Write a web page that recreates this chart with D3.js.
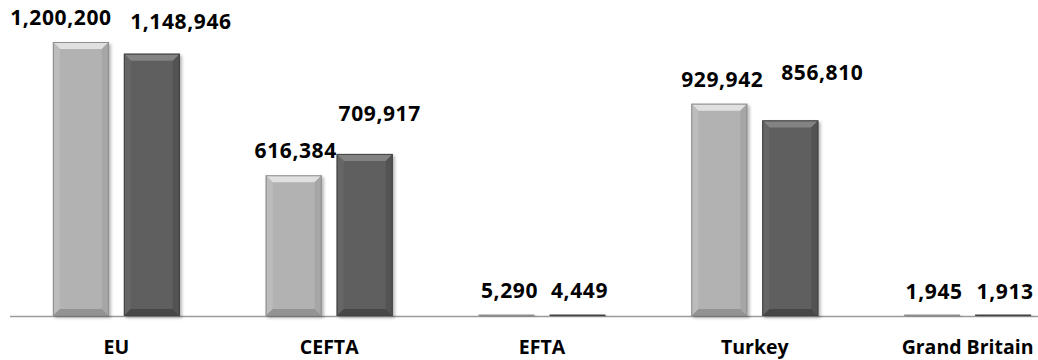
<!DOCTYPE html>
<html>
<head>
<meta charset="utf-8">
<script src="https://cdnjs.cloudflare.com/ajax/libs/d3/7.8.5/d3.min.js"></script>
<style>
  body { margin: 0; background: #fff; }
  text { font-family: "Open Sans", "DejaVu Sans", sans-serif; font-weight: bold; fill: #000; }
</style>
</head>
<body>
<div id="chart"></div>
<script>
// data
var categories = ["EU", "CEFTA", "EFTA", "Turkey", "Grand Britain"];
var seriesNames = ["s1", "s2"];
var series1 = [1200200, 616384, 5290, 929942, 1945];
var series2 = [1148946, 709917, 4449, 856810, 1913];

// label nudges (Excel moved a few labels to avoid overlap)
var labelShift = {
  s1: [[-20, 0], [2, 0], [3, 0], [3, 0], [2, 0]],
  s2: [[29, -8], [15, -16], [2, 0], [32, -23], [2, 0]]
};

var width = 1038, height = 360;
var baseY = 316;

var svg = d3.select("#chart").append("svg")
    .attr("width", width)
    .attr("height", height);

var defs = svg.append("defs");
var f = defs.append("filter").attr("id", "shadow")
    .attr("x", "-20%").attr("y", "-20%").attr("width", "140%").attr("height", "140%");
f.append("feDropShadow")
    .attr("dx", 2).attr("dy", 2).attr("stdDeviation", 1.6)
    .attr("flood-color", "#000").attr("flood-opacity", 0.28);

// scales: the right end of the axis is cut off by the picture edge
var x0 = d3.scaleBand().domain(categories).range([10, 1074]).padding(0);
var x1 = d3.scaleBand().domain(seriesNames)
    .range([(x0.bandwidth() - 127) / 2, (x0.bandwidth() + 127) / 2])
    .paddingInner(15 / 71);
var y = d3.scaleLinear().domain([0, 1200200]).range([baseY, 42]);

var styles = {
  s1: { body: "#b2b2b2", top: "#e0e0e0", left: "#bcbcbc", right: "#a6a6a6", bottom: "#939393", edge: "#8e8e8e" },
  s2: { body: "#5e5e5e", top: "#838383", left: "#666666", right: "#535353", bottom: "#474747", edge: "#424242" }
};

var data = [];
categories.forEach(function(c, i) {
  data.push({ cat: c, key: "s1", value: series1[i], i: i });
  data.push({ cat: c, key: "s2", value: series2[i], i: i });
});

// axis line
svg.append("line")
    .attr("x1", x0.range()[0]).attr("x2", width)
    .attr("y1", baseY + 0.5).attr("y2", baseY + 0.5)
    .style("stroke", "#9a9a9a")
    .style("stroke-width", 1.5);

var bars = svg.selectAll(".bar")
    .data(data)
    .enter()
    .append("g")
    .attr("class", "bar")
    .attr("filter", "url(#shadow)");

bars.each(function(d) {
  var g = d3.select(this);
  var st = styles[d.key];
  var xa = x0(d.cat) + x1(d.key), xb = xa + x1.bandwidth();
  var ya = y(d.value), yb = baseY;
  var h = yb - ya;
  if (h < 2) {
    g.append("rect").attr("x", xa).attr("y", yb - 1.5)
      .attr("width", xb - xa).attr("height", 1.5)
      .style("fill", st.edge);
    return;
  }
  var b = Math.min(7, h / 2, x1.bandwidth() / 2);
  function poly(pts, fill) {
    g.append("polygon")
      .attr("points", pts.map(function(p) { return p.join(","); }).join(" "))
      .style("fill", fill);
  }
  g.append("rect").attr("x", xa).attr("y", ya)
    .attr("width", xb - xa).attr("height", h)
    .style("fill", st.body);
  poly([[xa, ya], [xb, ya], [xb - b, ya + b], [xa + b, ya + b]], st.top);
  poly([[xa, ya], [xa + b, ya + b], [xa + b, yb - b], [xa, yb]], st.left);
  poly([[xb, ya], [xb - b, ya + b], [xb - b, yb - b], [xb, yb]], st.right);
  poly([[xa, yb], [xa + b, yb - b], [xb - b, yb - b], [xb, yb]], st.bottom);
  g.append("rect").attr("x", xa + 0.5).attr("y", ya + 0.5)
    .attr("width", xb - xa - 1).attr("height", h - 1)
    .style("fill", "none").style("stroke", st.edge).style("stroke-width", 1);
});

// value labels
var fmt = d3.format(",");
svg.selectAll(".val")
    .data(data)
    .enter()
    .append("text")
    .attr("class", "val")
    .attr("text-anchor", "middle")
    .style("font-size", "21px")
    .style("letter-spacing", "0.6px")
    .attr("x", function(d) {
      return x0(d.cat) + x1(d.key) + x1.bandwidth() / 2 + labelShift[d.key][d.i][0];
    })
    .attr("y", function(d) { return y(d.value) - 17 + labelShift[d.key][d.i][1]; })
    .text(function(d) { return fmt(d.value); });

// category labels
svg.selectAll(".cat")
    .data(categories)
    .enter()
    .append("text")
    .attr("class", "cat")
    .attr("text-anchor", "middle")
    .style("font-size", "19.5px")
    .attr("x", function(d) { return x0(d) + x0.bandwidth() / 2; })
    .attr("y", 354)
    .text(function(d) { return d; });
</script>
</body>
</html>
